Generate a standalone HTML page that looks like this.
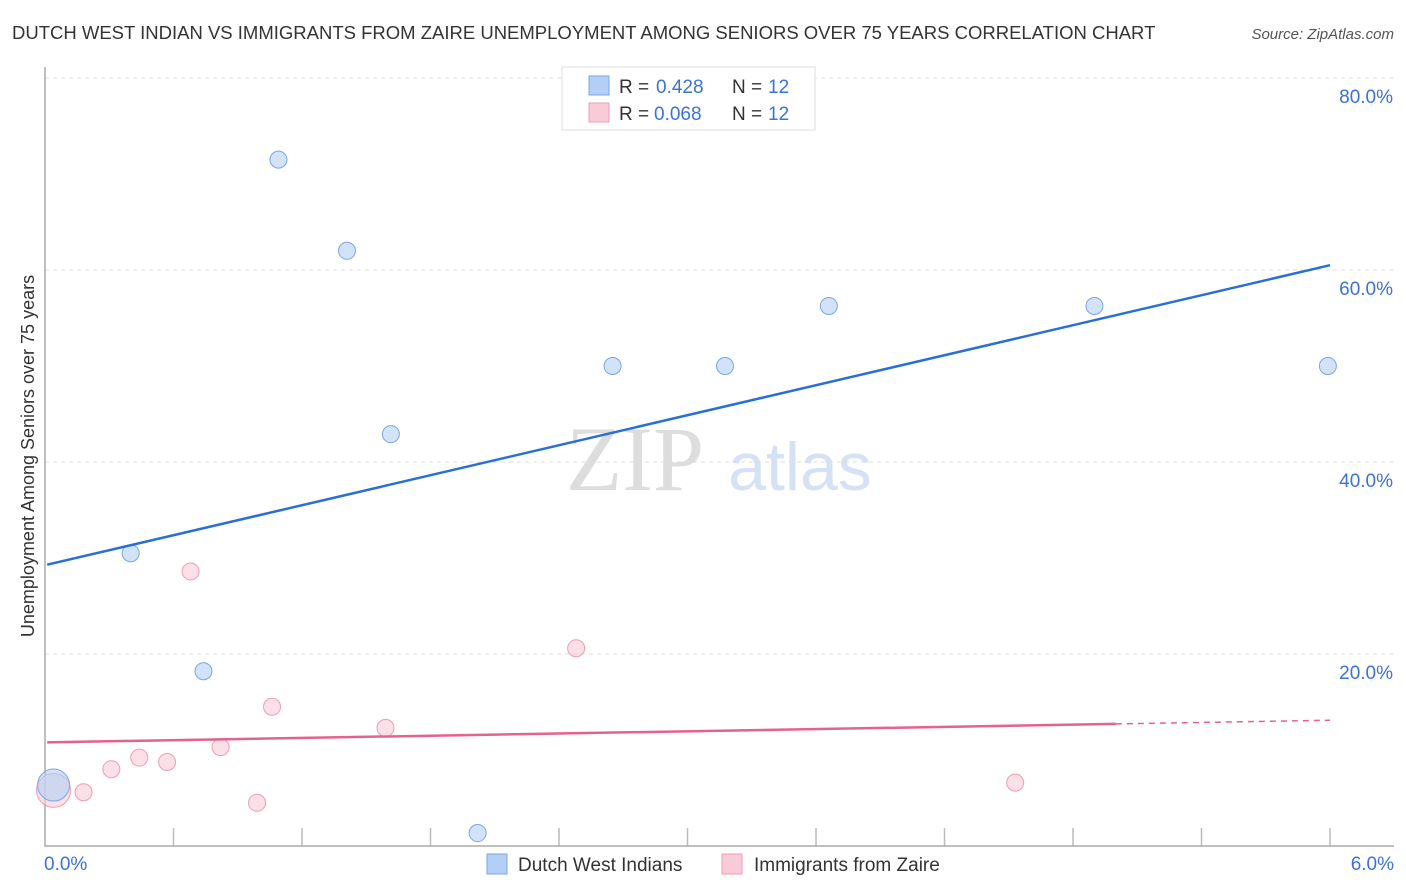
<!DOCTYPE html>
<html><head><meta charset="utf-8"><style>
body{margin:0;background:#fff;font-family:"Liberation Sans",sans-serif;}
#wrap{position:relative;width:1406px;height:892px;overflow:hidden}
</style></head><body><div id="wrap">
<svg id="svg" width="1406" height="892" xmlns="http://www.w3.org/2000/svg">
<text x="12" y="39" font-size="18.5" fill="#333">DUTCH WEST INDIAN VS IMMIGRANTS FROM ZAIRE UNEMPLOYMENT AMONG SENIORS OVER 75 YEARS CORRELATION CHART</text>
<text x="1394" y="39" font-size="15" fill="#555" font-style="italic" text-anchor="end">Source: ZipAtlas.com</text>
<text transform="translate(34,456) rotate(-90)" font-size="18" fill="#333" text-anchor="middle">Unemployment Among Seniors over 75 years</text>
<text x="635" y="490" font-size="92" fill="#ddd" font-family="Liberation Serif,serif" text-anchor="middle">ZIP</text>
<text x="800" y="490" font-size="68" fill="#d5e2f5" text-anchor="middle">atlas</text>
<g id="grid"></g><g id="marks"></g>
<g>
<rect x="562" y="67" width="253" height="63" fill="#fff" stroke="#ddd"/>
<rect x="589" y="76" width="20" height="19" fill="#b3cff5" stroke="#7aa6e6"/>
<text x="619" y="93" font-size="19" fill="#333">R =</text><text x="656" y="93" font-size="19" fill="#3a72d8">0.428</text>
<text x="732" y="93" font-size="19" fill="#333">N =</text><text x="768" y="93" font-size="19" fill="#3a72d8">12</text>
<rect x="589" y="103" width="20" height="19" fill="#f9cbd9" stroke="#ee9cb5"/>
<text x="619" y="120" font-size="19" fill="#333">R =</text><text x="654" y="120" font-size="19" fill="#3a72d8">0.068</text>
<text x="732" y="120" font-size="19" fill="#333">N =</text><text x="768" y="120" font-size="19" fill="#3a72d8">12</text>
</g>
<g>
<rect x="487" y="854" width="20" height="20" fill="#b3cff5" stroke="#7aa6e6"/>
<text x="518" y="871" font-size="19" fill="#333">Dutch West Indians</text>
<rect x="722" y="854" width="20" height="20" fill="#f9cbd9" stroke="#ee9cb5"/>
<text x="754" y="871" font-size="19" fill="#333">Immigrants from Zaire</text>
</g>
</svg>
<script>
const yTicks=[20,40,60,80];
const xTickLabels=["0.0%","6.0%"];
const blueX=[0.40,0.74,1.09,1.41,1.615,2.02,2.65,3.175,3.66,4.90,5.99,0.04];
const blueY=[30.5,18.2,71.5,62.0,42.9,1.35,50.0,50.0,56.25,56.25,50.0,6.35];
const pinkX=[0.04,0.18,0.31,0.44,0.57,0.68,0.82,0.99,1.06,1.59,2.48,4.53];
const pinkY=[5.8,5.6,8.0,9.2,8.75,28.6,10.3,4.5,14.5,12.3,20.6,6.6];
const blueTrend=[29.3,60.5];
const pinkTrend=[10.8,13.1];
const pinkSolidEnd=5.0;
const X=v=>45+v*214.17, Y=v=>846-v*9.6;
const NS="http://www.w3.org/2000/svg";
function mk(t,a,p){const e=document.createElementNS(NS,t);for(const k in a)e.setAttribute(k,a[k]);document.getElementById(p).appendChild(e);return e;}
yTicks.forEach(t=>{
 const l=mk('line',{x1:45,x2:1394,y1:Y(t),y2:Y(t),stroke:'#ddd','stroke-dasharray':'4,4'},'grid');
 
 
 const tx=mk('text',{x:1393,y:Y(t)+25,'font-size':19,fill:'#3a72d8','text-anchor':'end'},'grid');tx.textContent=t.toFixed(1)+'%';
 
 
});
for(let i=1;i<=10;i++){const l=mk('line',{x1:X(i*0.6),x2:X(i*0.6),y1:828,y2:846,stroke:'#bbb','stroke-width':1.5},'grid');
 
 }
const ax=mk('path',{d:'M45,67V846H1394',fill:'none',stroke:'#aaa','stroke-width':1.5},'grid');


const xl0=mk('text',{x:44,y:870,'font-size':19,fill:'#3a72d8'},'grid');xl0.textContent=xTickLabels[0];


const xl1=mk('text',{x:1394,y:870,'font-size':19,fill:'#3a72d8','text-anchor':'end'},'grid');xl1.textContent=xTickLabels[1];


function pt(x,y,big,blue){const c=mk('circle',{cx:X(x),cy:Y(y),r:big?(blue?16:17):8.5,fill:blue?'rgba(179,207,245,0.6)':'rgba(249,203,217,0.6)',stroke:blue?'#7aa6e6':'#ee9cb5','stroke-width':1},'marks');
 
 }
pinkX.forEach((x,i)=>pt(x,pinkY[i],i===0,false));
blueX.forEach((x,i)=>pt(x,blueY[i],i===11,true));
const bt=mk('line',{x1:X(0.01),y1:Y(blueTrend[0]),x2:X(6),y2:Y(blueTrend[1]),stroke:'#2a6fd6','stroke-width':2.5},'marks');


const py=v=>pinkTrend[0]+(pinkTrend[1]-pinkTrend[0])*v/6;
const pt1=mk('line',{x1:X(0.01),y1:Y(py(0)),x2:X(pinkSolidEnd),y2:Y(py(pinkSolidEnd)),stroke:'#e5628c','stroke-width':2.5},'marks');


const pt2=mk('line',{x1:X(pinkSolidEnd),y1:Y(py(pinkSolidEnd)),x2:X(6),y2:Y(py(6)),stroke:'#e5628c','stroke-width':1.5,'stroke-dasharray':'6,5'},'marks');


</script></div></body></html>
